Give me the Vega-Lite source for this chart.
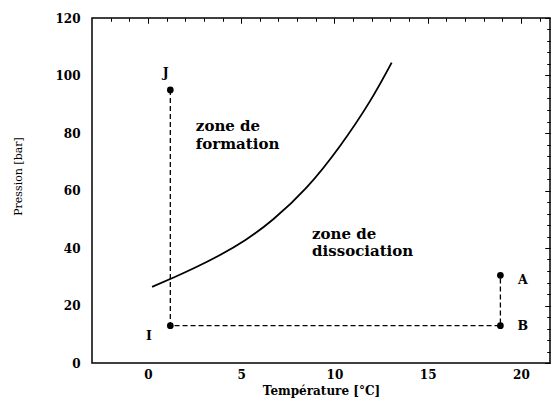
{
  "$schema": "https://vega.github.io/schema/vega-lite/v6.json",
  "width": 458,
  "height": 345,
  "autosize": {"type": "none"},
  "padding": {"left": 92, "top": 18, "right": 2, "bottom": 43},
  "background": "white",
  "config": {
    "view": {"stroke": "black", "strokeWidth": 1.5},
    "axis": {"domain": false, "grid": false, "tickColor": "black", "tickWidth": 1, "labelColor": "black", "titleColor": "black", "labelFont": "DejaVu Serif", "titleFont": "DejaVu Serif"}
  },
  "datasets": {
    "curve": [
      {"t": 0.22, "p": 26.5},
      {"t": 1.47, "p": 30.0},
      {"t": 2.54, "p": 33.2},
      {"t": 3.79, "p": 37.3},
      {"t": 5.23, "p": 42.8},
      {"t": 6.72, "p": 50.0},
      {"t": 8.5, "p": 61.0},
      {"t": 10.3, "p": 75.5},
      {"t": 11.9, "p": 91.0},
      {"t": 13.07, "p": 104.5}
    ],
    "path": [
      {"k": 1, "t": 1.2, "p": 95},
      {"k": 2, "t": 1.2, "p": 13},
      {"k": 3, "t": 18.9, "p": 13},
      {"k": 4, "t": 18.9, "p": 30.5}
    ],
    "pts": [
      {"name": "J", "t": 1.2, "p": 95},
      {"name": "I", "t": 1.2, "p": 13},
      {"name": "B", "t": 18.9, "p": 13},
      {"name": "A", "t": 18.9, "p": 30.5}
    ],
    "zones": [
      {"txt": "zone de", "t": 2.57, "p": 82.4},
      {"txt": "formation", "t": 2.57, "p": 76.3},
      {"txt": "zone de", "t": 8.8, "p": 44.9},
      {"txt": "dissociation", "t": 8.8, "p": 38.8}
    ],
    "letters": [
      {"name": "J", "t": 0.95, "p": 101},
      {"name": "I", "t": 0.05, "p": 9.5},
      {"name": "A", "t": 20.1, "p": 28.8},
      {"name": "B", "t": 20.1, "p": 13}
    ]
  },
  "resolve": {"axis": {"x": "independent", "y": "independent"}},
  "layer": [
    {
      "data": {"name": "curve"},
      "mark": {"type": "line", "color": "black", "strokeWidth": 1.8, "interpolate": "natural"},
      "encoding": {
        "x": {"field": "t", "type": "quantitative", "scale": {"domain": [-3, 21.56], "nice": false, "zero": false},
          "axis": {"values": [0, 5, 10, 15, 20], "ticks": false, "labelPadding": 6, "labelFontSize": 12, "labelFontWeight": "bold", "title": "Température [°C]", "titleFontSize": 12, "titleFontWeight": "bold", "titlePadding": 5}},
        "y": {"field": "p", "type": "quantitative", "scale": {"domain": [0, 120], "nice": false, "zero": false},
          "axis": {"values": [0, 20, 40, 60, 80, 100, 120], "ticks": false, "labelPadding": 12, "labelFontSize": 12, "labelFontWeight": "bold", "title": "Pression [bar]", "titleFontSize": 11, "titleFontWeight": "normal", "titlePadding": 31, "titleY": 158}}
      }
    },
    {
      "data": {"name": "path"},
      "mark": {"type": "line", "color": "black", "strokeWidth": 1.3, "strokeDash": [5, 3]},
      "encoding": {
        "x": {"field": "t", "type": "quantitative", "scale": {"domain": [-3, 21.56], "nice": false, "zero": false},
          "axis": {"values": [0, 5, 10, 15, 20], "labels": false, "tickSize": -5, "title": null}},
        "y": {"field": "p", "type": "quantitative", "scale": {"domain": [0, 120], "nice": false, "zero": false},
          "axis": {"values": [0, 20, 40, 60, 80, 100, 120], "labels": false, "tickSize": -5, "title": null}},
        "order": {"field": "k", "type": "quantitative"}
      }
    },
    {
      "data": {"name": "pts"},
      "mark": {"type": "point", "filled": true, "color": "black", "size": 45, "opacity": 1},
      "encoding": {
        "x": {"field": "t", "type": "quantitative", "scale": {"domain": [-3, 21.56], "nice": false, "zero": false},
          "axis": {"values": [-2, -1, 1, 2, 3, 4, 6, 7, 8, 9, 11, 12, 13, 14, 16, 17, 18, 19, 21], "labels": false, "tickSize": -3, "title": null}},
        "y": {"field": "p", "type": "quantitative", "scale": {"domain": [0, 120], "nice": false, "zero": false},
          "axis": {"values": [4, 8, 12, 16, 24, 28, 32, 36, 44, 48, 52, 56, 64, 68, 72, 76, 84, 88, 92, 96, 104, 108, 112, 116], "labels": false, "tickSize": -3, "title": null}}
      }
    },
    {
      "data": {"name": "zones"},
      "mark": {"type": "text", "align": "left", "baseline": "middle", "font": "DejaVu Serif", "fontWeight": "bold", "fontSize": 15, "color": "black"},
      "encoding": {
        "text": {"field": "txt"},
        "x": {"field": "t", "type": "quantitative", "scale": {"domain": [-3, 21.56], "nice": false, "zero": false},
          "axis": {"orient": "top", "values": [0, 5, 10, 15, 20], "labels": false, "tickSize": -5, "title": null}},
        "y": {"field": "p", "type": "quantitative", "scale": {"domain": [0, 120], "nice": false, "zero": false},
          "axis": {"orient": "right", "values": [0, 20, 40, 60, 80, 100, 120], "labels": false, "tickSize": -5, "title": null}}
      }
    },
    {
      "data": {"name": "letters"},
      "mark": {"type": "text", "align": "center", "baseline": "middle", "font": "DejaVu Serif", "fontWeight": "bold", "fontSize": 12.5, "color": "black"},
      "encoding": {
        "text": {"field": "name"},
        "x": {"field": "t", "type": "quantitative", "scale": {"domain": [-3, 21.56], "nice": false, "zero": false},
          "axis": {"orient": "top", "values": [-2, -1, 1, 2, 3, 4, 6, 7, 8, 9, 11, 12, 13, 14, 16, 17, 18, 19, 21], "labels": false, "tickSize": -3, "title": null}},
        "y": {"field": "p", "type": "quantitative", "scale": {"domain": [0, 120], "nice": false, "zero": false},
          "axis": {"orient": "right", "values": [4, 8, 12, 16, 24, 28, 32, 36, 44, 48, 52, 56, 64, 68, 72, 76, 84, 88, 92, 96, 104, 108, 112, 116], "labels": false, "tickSize": -3, "title": null}}
      }
    }
  ]
}
